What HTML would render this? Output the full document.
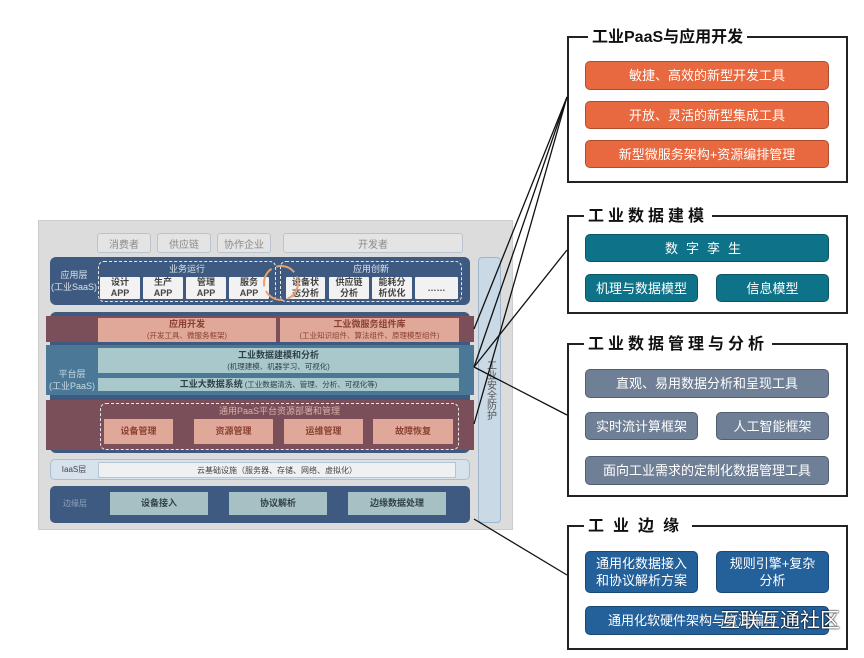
<!DOCTYPE html>
<html><head><meta charset="utf-8"><style>
*{margin:0;padding:0;box-sizing:border-box}
body{width:864px;height:658px;background:#fff;position:relative;overflow:hidden;font-family:"Liberation Sans","Noto Sans CJK SC",sans-serif}
.a{position:absolute;display:flex;align-items:center;justify-content:center;text-align:center;white-space:nowrap}
.t{border:1px solid #b8c4d0;border-radius:3px;background:#e4e4e4;color:#8a8a8a;font-size:10px}
.app{background:#f2f2f2;color:#444;font-size:9px;font-weight:bold;line-height:11px;border-radius:1px}
.pink{background:#dfa898;color:#8a3f32;font-size:9px;font-weight:bold;line-height:11px;flex-direction:column}
.pink small{font-weight:normal;font-size:7.5px}
.lt{background:#a9c8cc;color:#2f4048;font-size:9px;font-weight:bold;line-height:11px;flex-direction:column}
.lt small{font-weight:normal;font-size:7.5px}
.dash{position:absolute;border:1.5px dashed #e8e8e8;border-radius:6px}
.rb{position:absolute;border:2px solid #222;background:#fff}
.tt{position:absolute;background:#fff;font-weight:bold;font-size:16px;color:#111;padding:0 4px;white-space:nowrap}
.bar{color:#fff;font-size:13px;line-height:1;border-radius:5px;border:1px solid rgba(0,0,0,.25)}
.or{background:#e8683f}.te{background:#0e7388}.gr{background:#6e7f96}.bl{background:#24609a}
</style></head><body>
<div style="position:absolute;left:38px;top:220px;width:475px;height:310px;background:#dcdcdc;border:1px solid #ccc"></div>
<div class="a t" style="left:97px;top:233px;width:54px;height:20px">消费者</div>
<div class="a t" style="left:157px;top:233px;width:54px;height:20px">供应链</div>
<div class="a t" style="left:217px;top:233px;width:54px;height:20px">协作企业</div>
<div class="a t" style="left:283px;top:233px;width:180px;height:20px">开发者</div>
<div style="position:absolute;left:50px;top:257px;width:420px;height:48px;background:#3f5a80;border-radius:6px"></div>
<div class="a" style="left:50px;top:268px;width:48px;height:26px;color:#dbe3ee;font-size:9px;line-height:12px;flex-direction:column">应用层<span>(工业SaaS)</span></div>
<div class="dash" style="left:98px;top:261px;width:178px;height:41px"></div>
<div class="dash" style="left:280px;top:261px;width:182px;height:41px"></div>
<div class="a" style="left:98px;top:262px;width:178px;height:13px;color:#dbe3ee;font-size:9px">业务运行</div>
<div class="a" style="left:280px;top:262px;width:182px;height:13px;color:#dbe3ee;font-size:9px">应用创新</div>
<div class="a app" style="left:100px;top:277px;width:40px;height:22px;flex-direction:column">设计<span>APP</span></div>
<div class="a app" style="left:143px;top:277px;width:40px;height:22px;flex-direction:column">生产<span>APP</span></div>
<div class="a app" style="left:186px;top:277px;width:40px;height:22px;flex-direction:column">管理<span>APP</span></div>
<div class="a app" style="left:229px;top:277px;width:40px;height:22px;flex-direction:column">服务<span>APP</span></div>
<div class="a app" style="left:286px;top:277px;width:39px;height:22px;flex-direction:column">设备状<span>态分析</span></div>
<div class="a app" style="left:329px;top:277px;width:40px;height:22px;flex-direction:column">供应链<span>分析</span></div>
<div class="a app" style="left:372px;top:277px;width:40px;height:22px;flex-direction:column">能耗分<span>析优化</span></div>
<div class="a app" style="left:415px;top:277px;width:43px;height:22px">……</div>
<svg style="position:absolute;left:258px;top:260px" width="46" height="46"><circle cx="23" cy="23" r="17" fill="none" stroke="#e8a070" stroke-width="2" stroke-dasharray="20 5"/></svg>
<div style="position:absolute;left:50px;top:312px;width:420px;height:141px;background:#3f5a80;border-radius:6px"></div>
<div style="position:absolute;left:46px;top:316px;width:428px;height:26px;background:#7a4f5a"></div>
<div class="a pink" style="left:98px;top:318px;width:178px;height:24px">应用开发<small>(开发工具、微服务框架)</small></div>
<div class="a pink" style="left:280px;top:318px;width:179px;height:24px">工业微服务组件库<small>(工业知识组件、算法组件、原理模型组件)</small></div>
<div style="position:absolute;left:46px;top:345px;width:428px;height:50px;background:#4a7896"></div>
<div class="a" style="left:46px;top:366px;width:52px;height:28px;color:#c8dbe6;font-size:9px;line-height:12px;flex-direction:column">平台层<span>(工业PaaS)</span></div>
<div class="a lt" style="left:98px;top:348px;width:361px;height:25px">工业数据建模和分析<small>(机理建模、机器学习、可视化)</small></div>
<div class="a lt" style="left:98px;top:378px;width:361px;height:13px;flex-direction:row">工业大数据系统 <small>&nbsp;(工业数据清洗、管理、分析、可视化等)</small></div>
<div style="position:absolute;left:46px;top:400px;width:428px;height:50px;background:#7a4f5a"></div>
<div class="dash" style="left:100px;top:403px;width:359px;height:47px"></div>
<div class="a" style="left:100px;top:404px;width:359px;height:13px;color:#dcb0a8;font-size:9px">通用PaaS平台资源部署和管理</div>
<div class="a pink" style="left:104px;top:419px;width:69px;height:25px">设备管理</div>
<div class="a pink" style="left:194px;top:419px;width:79px;height:25px">资源管理</div>
<div class="a pink" style="left:284px;top:419px;width:79px;height:25px">运维管理</div>
<div class="a pink" style="left:373px;top:419px;width:80px;height:25px">故障恢复</div>
<div style="position:absolute;left:50px;top:459px;width:420px;height:21px;background:#d6e2ec;border:1px solid #a9bfd2;border-radius:5px"></div>
<div class="a" style="left:50px;top:459px;width:48px;height:21px;color:#444;font-size:8px">IaaS层</div>
<div class="a" style="left:98px;top:462px;width:358px;height:16px;background:#eef0f2;border:1px solid #b8c4d0;color:#444;font-size:8px">云基础设施（服务器、存储、网络、虚拟化）</div>
<div style="position:absolute;left:50px;top:486px;width:420px;height:37px;background:#3f5a80;border-radius:5px"></div>
<div class="a" style="left:50px;top:492px;width:50px;height:23px;color:#8ea4c0;font-size:8px">边缘层</div>
<div class="a lt" style="left:110px;top:492px;width:98px;height:23px;background:#a7c0c3">设备接入</div>
<div class="a lt" style="left:229px;top:492px;width:98px;height:23px;background:#a7c0c3">协议解析</div>
<div class="a lt" style="left:348px;top:492px;width:98px;height:23px;background:#a7c0c3">边缘数据处理</div>
<div style="position:absolute;left:478px;top:257px;width:23px;height:266px;background:#c9d9e6;border:1px solid #9fb6cc;border-radius:4px"></div>
<div class="a" style="left:478px;top:350px;width:23px;height:80px;color:#555;font-size:10px;line-height:12px;white-space:normal;writing-mode:vertical-rl;text-orientation:upright">工业安全防护</div>
<div class="rb" style="left:567px;top:36px;width:281px;height:147px"></div>
<div class="tt" style="left:588px;top:23px">工业PaaS与应用开发</div>
<div class="a bar or" style="left:585px;top:61px;width:244px;height:29px">敏捷、高效的新型开发工具</div>
<div class="a bar or" style="left:585px;top:101px;width:244px;height:28px">开放、灵活的新型集成工具</div>
<div class="a bar or" style="left:585px;top:140px;width:244px;height:28px">新型微服务架构+资源编排管理</div>
<div class="rb" style="left:567px;top:215px;width:281px;height:99px"></div>
<div class="tt" style="left:584px;top:202px;letter-spacing:4px">工业数据建模</div>
<div class="a bar te" style="left:585px;top:234px;width:244px;height:28px;letter-spacing:8px">数字孪生</div>
<div class="a bar te" style="left:585px;top:274px;width:113px;height:28px">机理与数据模型</div>
<div class="a bar te" style="left:716px;top:274px;width:113px;height:28px">信息模型</div>
<div class="rb" style="left:567px;top:343px;width:281px;height:154px"></div>
<div class="tt" style="left:584px;top:330px;letter-spacing:4px">工业数据管理与分析</div>
<div class="a bar gr" style="left:585px;top:369px;width:244px;height:29px">直观、易用数据分析和呈现工具</div>
<div class="a bar gr" style="left:585px;top:412px;width:113px;height:28px">实时流计算框架</div>
<div class="a bar gr" style="left:716px;top:412px;width:113px;height:28px">人工智能框架</div>
<div class="a bar gr" style="left:585px;top:456px;width:244px;height:29px">面向工业需求的定制化数据管理工具</div>
<div class="rb" style="left:567px;top:525px;width:281px;height:125px"></div>
<div class="tt" style="left:584px;top:512px;letter-spacing:9px">工业边缘</div>
<div class="a bar bl" style="left:585px;top:551px;width:113px;height:42px;flex-direction:column;line-height:17px">通用化数据接入<span>和协议解析方案</span></div>
<div class="a bar bl" style="left:716px;top:551px;width:113px;height:42px;flex-direction:column;line-height:17px">规则引擎+复杂<span>分析</span></div>
<div class="a bar bl" style="left:585px;top:606px;width:244px;height:29px;justify-content:flex-start;padding-left:22px">通用化软硬件架构与资源编排</div>
<div class="a" style="left:670px;top:604px;width:170px;height:28px;color:#fff;font-size:20px;text-shadow:0 0 2px #000,0 0 1px #000;justify-content:flex-end">互联互通社区</div>
<svg style="position:absolute;left:0;top:0" width="864" height="658">
<g stroke="#111" stroke-width="1.3" fill="none">
<line x1="474" y1="329" x2="567" y2="97"/>
<line x1="474" y1="424" x2="567" y2="97"/>
<line x1="474" y1="367" x2="567" y2="97"/>
<line x1="474" y1="367" x2="567" y2="250"/>
<line x1="474" y1="367" x2="567" y2="415"/>
<line x1="474" y1="519" x2="567" y2="575"/>
</g></svg>
</body></html>
